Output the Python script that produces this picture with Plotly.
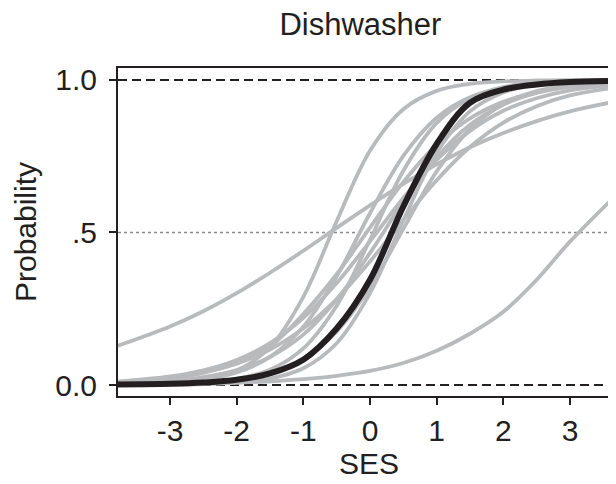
import plotly.graph_objects as go

# SES sample positions (x) shared by all curves
ses = [-3.78, -3.0, -2.5, -2.0, -1.5, -1.0, -0.5, 0.0, 0.5, 1.0, 1.5, 2.0, 2.5, 3.0, 3.75]

# Country curves (gray), probability read at each SES position
country_a = [0.129, 0.192, 0.242, 0.301, 0.368, 0.440, 0.515, 0.589, 0.659, 0.723, 0.779, 0.826, 0.865, 0.897, 0.932]
country_b = [0.001, 0.003, 0.005, 0.008, 0.012, 0.019, 0.030, 0.046, 0.072, 0.112, 0.168, 0.240, 0.345, 0.470, 0.635]
country_c = [0.001, 0.006, 0.017, 0.047, 0.124, 0.289, 0.537, 0.768, 0.904, 0.964, 0.987, 0.995, 0.998, 0.999, 1.000]
country_d = [0.002, 0.008, 0.018, 0.041, 0.092, 0.191, 0.356, 0.563, 0.751, 0.876, 0.943, 0.975, 0.989, 0.995, 0.999]
country_e = [0.009, 0.022, 0.040, 0.072, 0.126, 0.233, 0.363, 0.516, 0.665, 0.788, 0.874, 0.928, 0.960, 0.978, 0.991]
country_f = [0.001, 0.003, 0.008, 0.020, 0.050, 0.120, 0.260, 0.476, 0.702, 0.859, 0.940, 0.976, 0.991, 0.996, 0.999]
country_g = [0.005, 0.013, 0.026, 0.049, 0.092, 0.165, 0.280, 0.433, 0.600, 0.746, 0.853, 0.919, 0.957, 0.978, 0.992]
country_h = [0.000, 0.001, 0.003, 0.008, 0.021, 0.055, 0.137, 0.301, 0.540, 0.761, 0.897, 0.959, 0.985, 0.994, 0.999]
country_i = [0.001, 0.004, 0.009, 0.019, 0.041, 0.087, 0.175, 0.321, 0.512, 0.700, 0.839, 0.920, 0.963, 0.983, 0.995]
country_j = [0.011, 0.028, 0.048, 0.082, 0.137, 0.220, 0.334, 0.471, 0.613, 0.738, 0.833, 0.899, 0.940, 0.966, 0.985]
country_k = [0.011, 0.025, 0.042, 0.070, 0.116, 0.185, 0.282, 0.405, 0.541, 0.671, 0.780, 0.860, 0.914, 0.949, 0.977]

countries = [country_a, country_b, country_c, country_d, country_e, country_f,
             country_g, country_h, country_i, country_j, country_k]

# Overall (pooled) curve, black
overall = [0.002, 0.004, 0.008, 0.017, 0.038, 0.083, 0.185, 0.345, 0.585, 0.790, 0.925, 0.968, 0.985, 0.993, 0.997]

x_ticks = [-3, -2, -1, 0, 1, 2, 3]
y_ticks = [0.0, 0.5, 1.0]
y_tick_labels = ["0.0", ".5", "1.0"]

INK = "#231f20"
GRAY = "#b9babc"
FONT = "Liberation Sans, Arial, Helvetica, sans-serif"

fig = go.Figure()

for ys in countries:
    fig.add_trace(go.Scatter(
        x=ses, y=ys, mode="lines",
        line=dict(color=GRAY, width=3.8, shape="spline", smoothing=1.0),
        showlegend=False, hoverinfo="skip",
    ))

fig.add_trace(go.Scatter(
    x=ses, y=overall, mode="lines",
    line=dict(color=INK, width=6, shape="spline", smoothing=1.0),
    showlegend=False, hoverinfo="skip",
))

# reference lines
for yv in (0.0, 1.0):
    fig.add_shape(type="line", xref="paper", yref="y", x0=0, x1=1, y0=yv, y1=yv,
                  line=dict(color=INK, width=2, dash="9px,5px"), layer="below")
fig.add_shape(type="line", xref="paper", yref="y", x0=0, x1=1, y0=0.5, y1=0.5,
              line=dict(color="#8a8a8a", width=1.5, dash="dot"), layer="below")

fig.update_layout(
    width=616, height=484,
    margin=dict(l=110, r=4, t=60, b=96, autoexpand=False),
    paper_bgcolor="white", plot_bgcolor="white",
    font=dict(family=FONT, color=INK, size=30),
    title=dict(text="Dishwasher", x=0.572, xref="container", xanchor="center",
               y=0.99, yref="container", yanchor="top",
               font=dict(size=31, family=FONT, color=INK)),
)

fig.update_xaxes(
    range=[-3.78, 3.75], tickvals=x_ticks, ticktext=[str(v) for v in x_ticks],
    showgrid=False, zeroline=False, automargin=False,
    showline=True, mirror=True, linecolor=INK, linewidth=2,
    ticks="outside", ticklen=7, tickwidth=2, tickcolor=INK,
    tickfont=dict(size=30, family=FONT, color=INK),
    ticklabelstandoff=0,
    title=dict(text="SES", font=dict(size=30, family=FONT, color=INK), standoff=0),
)
fig.update_yaxes(
    range=[-0.036, 1.039], tickvals=y_ticks, ticktext=y_tick_labels,
    showgrid=False, zeroline=False, automargin=False,
    showline=True, mirror=True, linecolor=INK, linewidth=2,
    ticks="outside", ticklen=7, tickwidth=2, tickcolor=INK,
    tickfont=dict(size=30, family=FONT, color=INK),
    ticklabelstandoff=6,
    title=dict(text="Probability", font=dict(size=30, family=FONT, color=INK), standoff=10),
)

fig.write_html("out.html")
